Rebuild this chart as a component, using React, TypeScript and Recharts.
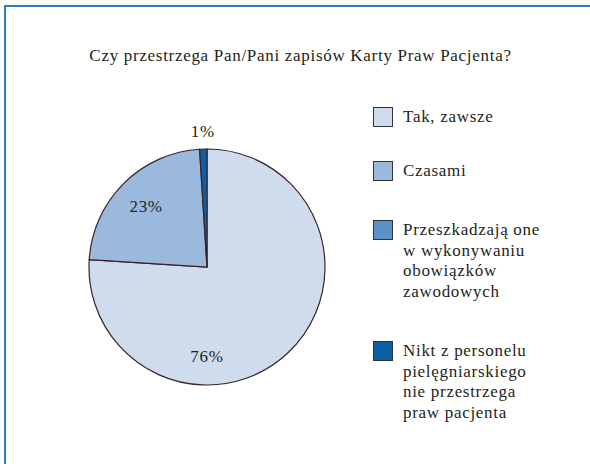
import { PieChart, Pie, Cell, Legend } from 'recharts';

const TITLE = 'Czy przestrzega Pan/Pani zapisów Karty Praw Pacjenta?';

const CATEGORIES = [
  'Tak, zawsze',
  'Czasami',
  'Przeszkadzają one\nw wykonywaniu\nobowiązków\nzawodowych',
  'Nikt z personelu\npielęgniarskiego\nnie przestrzega\npraw pacjenta',
];
const VALUES = [76, 23, 0, 1];
const COLORS = ['#cfdcee', '#9bb9dd', '#5d91c8', '#0d5fa6'];

const FONT = '"Times New Roman", Times, "Liberation Serif", Tinos, "Nimbus Roman", FreeSerif, "DejaVu Serif", serif';
const TEXT_COLOR = '#231f20';
const SPACING = '0.7px';

const data = CATEGORIES.map((name, i) => ({ name, value: VALUES[i] }));

const RAD = Math.PI / 180;

// small slices go outside, the big one sits at the bottom, the rest at mid-angle
const renderLabel = (props: any) => {
  const { cx, cy, midAngle, outerRadius, percent, value } = props;
  if (!value) return null;
  let angle = midAngle;
  let r = outerRadius * 0.73;
  if (percent < 0.05) r = outerRadius + 18;
  else if (percent > 0.5) {
    angle = -90;
    r = outerRadius * 0.755;
  }
  const x = cx + r * Math.cos(-angle * RAD);
  const y = cy + r * Math.sin(-angle * RAD);
  return (
    <text
      x={x}
      y={y}
      textAnchor="middle"
      dominantBaseline="central"
      fill={TEXT_COLOR}
      fontFamily={FONT}
      fontSize={17}
      letterSpacing={SPACING}
    >
      {`${value}%`}
    </text>
  );
};

const LEGEND_GAPS = [33, 39, 39, 0];

const renderLegend = () => (
  <div
    style={{
      fontFamily: FONT,
      fontSize: 17,
      lineHeight: '20.5px',
      letterSpacing: SPACING,
      color: TEXT_COLOR,
    }}
  >
    {CATEGORIES.map((name, i) => (
      <div key={name} style={{ display: 'flex', alignItems: 'flex-start', marginBottom: LEGEND_GAPS[i] }}>
        <span
          style={{
            width: 18,
            height: 18,
            background: COLORS[i],
            border: '1px solid #333',
            marginRight: 10,
            flexShrink: 0,
          }}
        />
        <span style={{ whiteSpace: 'pre' }}>{name}</span>
      </div>
    ))}
  </div>
);

export default function App() {
  return (
    <div style={{ position: 'absolute', left: 0, top: 0, width: 590, height: 464, background: '#fff' }}>
      <div
        style={{
          position: 'absolute',
          left: 4,
          top: 5,
          width: 586,
          height: 459,
          borderTop: '2px solid #2f7fc0',
          borderLeft: '2px solid #2f7fc0',
          boxSizing: 'border-box',
        }}
      />
      <div
        style={{
          position: 'absolute',
          left: 0,
          top: 46,
          width: 601,
          textAlign: 'center',
          fontFamily: FONT,
          fontSize: 17,
          letterSpacing: SPACING,
          color: TEXT_COLOR,
        }}
      >
        {TITLE}
      </div>
      <PieChart
        width={590}
        height={464}
        margin={{ top: 0, right: 0, bottom: 0, left: 0 }}
        style={{ position: 'absolute', left: 0, top: 0 }}
      >
        <Pie
          data={data}
          dataKey="value"
          nameKey="name"
          cx={207}
          cy={267}
          outerRadius={118}
          startAngle={90}
          endAngle={-270}
          stroke="#3a2228"
          strokeWidth={1.2}
          label={renderLabel}
          labelLine={false}
          isAnimationActive={false}
        >
          {data.map((d, i) => (
            <Cell key={d.name} fill={COLORS[i]} />
          ))}
        </Pie>
        <Legend
          content={renderLegend}
          layout="vertical"
          wrapperStyle={{ position: 'absolute', left: 373, top: 107, width: 210 }}
        />
      </PieChart>
    </div>
  );
}
